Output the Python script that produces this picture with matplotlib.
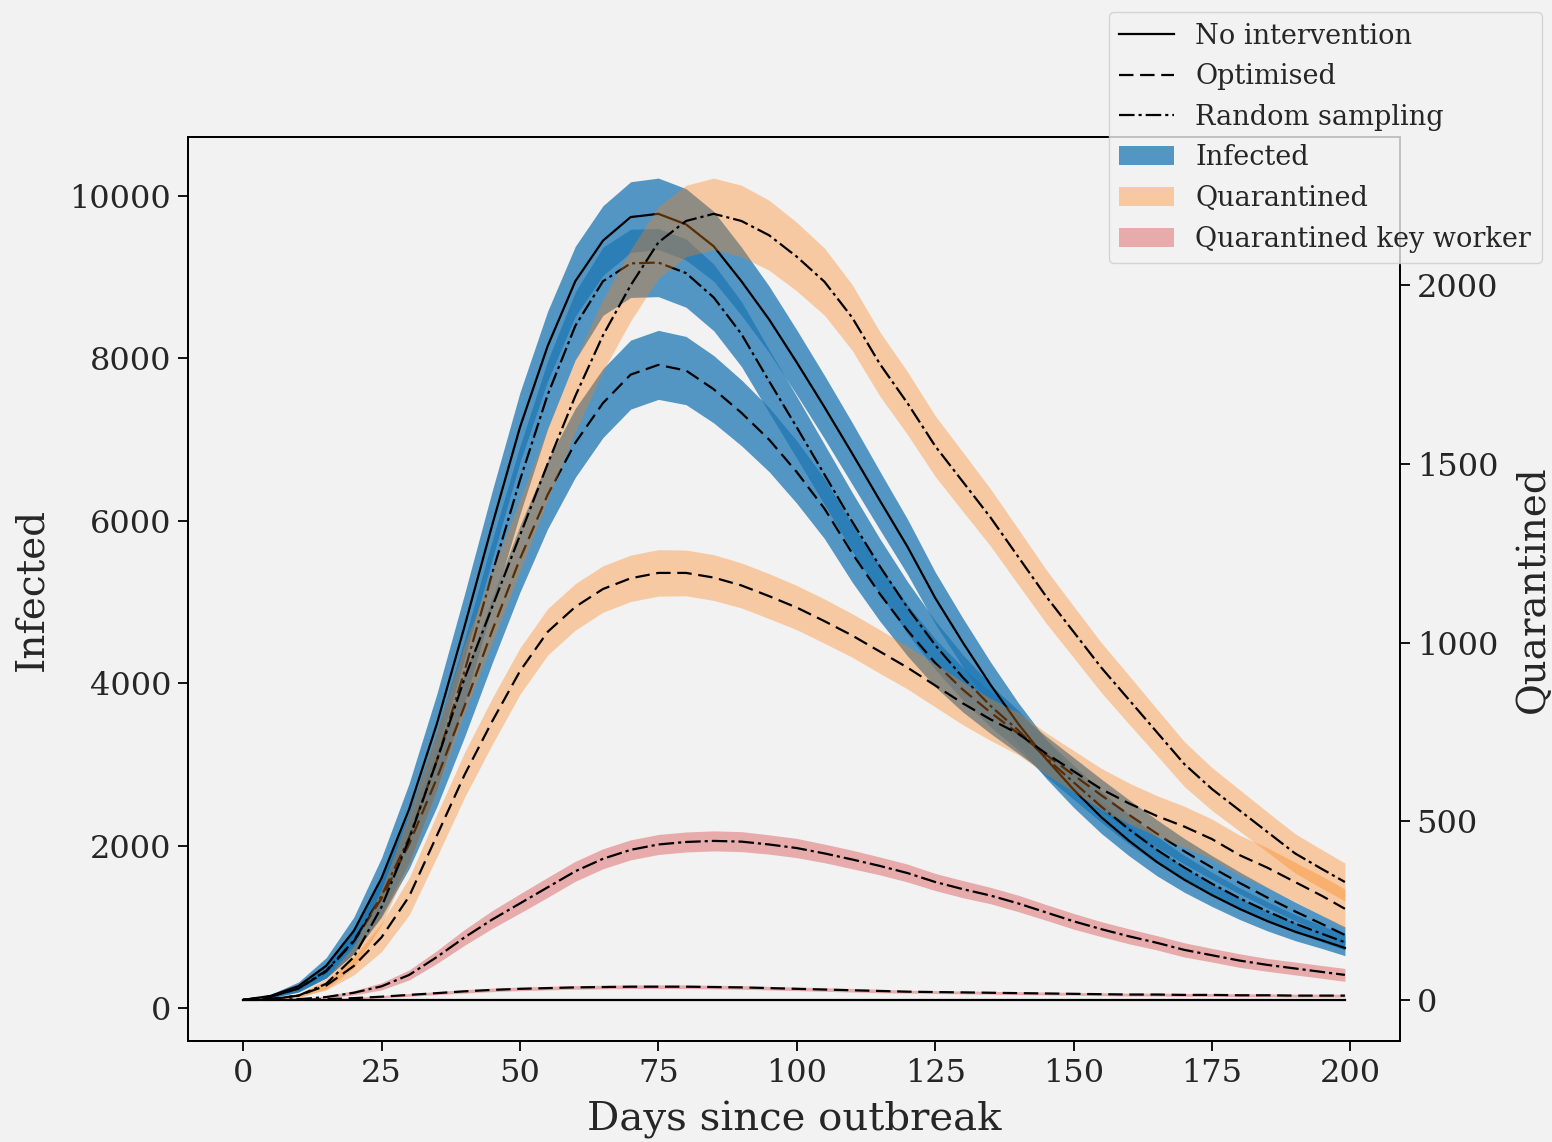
import matplotlib
matplotlib.use("Agg")
import matplotlib.pyplot as plt
from matplotlib.lines import Line2D
from matplotlib.patches import Patch
import numpy as np

plt.rcParams['font.family'] = ['DejaVu Serif']

# ---- data ----
days = [0, 5, 10, 15, 20, 25, 30, 35, 40, 45, 50, 55, 60, 65, 70, 75, 80, 85, 90, 95,
        100, 105, 110, 115, 120, 125, 130, 135, 140, 145, 150, 155, 160, 165, 170, 175,
        180, 185, 190, 195, 199]

# infected (left axis)
inf_none = [100, 150, 270, 520, 950, 1600, 2450, 3500, 4700, 5950, 7150, 8150, 8950, 9450,
            9740, 9780, 9650, 9380, 8950, 8480, 7950, 7400, 6830, 6250, 5680, 5050, 4500,
            3980, 3500, 3070, 2690, 2350, 2060, 1800, 1580, 1390, 1220, 1070, 940, 830, 740]
inf_opt = [100, 140, 240, 450, 820, 1350, 2020, 2830, 3720, 4650, 5530, 6320, 6960, 7450,
           7800, 7920, 7850, 7620, 7330, 7000, 6600, 6150, 5600, 5100, 4650, 4250, 3920,
           3640, 3380, 3120, 2870, 2620, 2380, 2150, 1930, 1730, 1540, 1360, 1190, 1030, 900]
inf_rand = [100, 140, 240, 460, 830, 1380, 2100, 3050, 4150, 5350, 6500, 7550, 8400, 8950,
            9170, 9180, 9050, 8750, 8300, 7720, 7150, 6570, 5990, 5440, 4930, 4470, 4070,
            3720, 3420, 3080, 2780, 2480, 2200, 1950, 1730, 1530, 1350, 1190, 1040, 910, 810]
sd_none = [0, 20, 50, 100, 170, 250, 320, 370, 400, 420, 430, 430, 430, 430, 435, 440, 440,
           430, 420, 410, 400, 390, 380, 360, 340, 320, 300, 280, 260, 240, 220, 200, 185,
           170, 155, 140, 130, 120, 110, 100, 95]
sd_opt = [0, 15, 40, 80, 150, 230, 300, 350, 380, 400, 410, 420, 425, 425, 425, 425, 420,
          415, 405, 395, 385, 370, 355, 335, 315, 295, 275, 260, 245, 230, 215, 200, 185,
          170, 158, 146, 135, 125, 115, 105, 100]
sd_rand = [0, 15, 45, 90, 160, 240, 310, 360, 390, 410, 420, 420, 420, 420, 420, 420, 420,
           410, 400, 390, 380, 370, 360, 340, 320, 300, 280, 260, 245, 230, 210, 195, 180,
           165, 150, 140, 130, 120, 110, 100, 95]

# quarantined (right axis)
q_none = [0] * len(days)
q_opt = [0, 3, 12, 40, 95, 175, 290, 460, 630, 780, 920, 1030, 1100, 1150, 1180, 1195, 1195,
         1182, 1160, 1130, 1098, 1060, 1020, 975, 930, 880, 830, 785, 745, 690, 640, 590,
         550, 515, 485, 450, 405, 370, 330, 290, 255]
q_rand = [0, 2, 12, 45, 120, 260, 450, 670, 900, 1100, 1300, 1500, 1690, 1860, 2000, 2120,
          2180, 2200, 2180, 2140, 2080, 2010, 1910, 1780, 1670, 1550, 1450, 1350, 1240, 1130,
          1030, 930, 840, 750, 660, 590, 530, 470, 410, 365, 330]
sdq_opt = [0, 1, 4, 12, 25, 40, 52, 60, 63, 65, 65, 65, 65, 65, 65, 65, 64, 64, 63, 63, 62,
           62, 61, 61, 60, 60, 60, 59, 59, 58, 58, 58, 57, 57, 57, 56, 56, 56, 55, 55, 55]
sdq_rand = [0, 1, 5, 15, 30, 50, 70, 85, 95, 100, 100, 100, 100, 100, 100, 100, 100, 100, 100,
            98, 96, 94, 92, 90, 88, 85, 83, 80, 78, 75, 72, 70, 68, 65, 63, 60, 58, 56, 55,
            54, 53]

# quarantined key workers (right axis)
k_opt = [0, 0, 0, 2, 5, 9, 14, 19, 24, 28, 31, 33, 35, 36, 37, 37, 37, 36, 35, 33, 31, 29,
         27, 25, 23, 22, 21, 20, 19, 18, 17, 16, 15, 15, 14, 14, 13, 13, 12, 12, 12]
k_rand = [0, 0, 2, 8, 20, 38, 70, 120, 175, 225, 270, 315, 360, 395, 420, 435, 442, 445, 443,
          435, 425, 410, 393, 375, 355, 330, 310, 292, 270, 245, 220, 198, 178, 160, 140,
          125, 110, 98, 88, 78, 70]
sdk_opt = [0, 0, 0, 1, 2, 3, 4, 4, 5, 5, 5, 5, 5, 5, 5, 5, 5, 5, 5, 5, 5, 5, 5, 5, 4, 4, 4,
           4, 4, 4, 4, 4, 4, 4, 4, 4, 4, 4, 4, 4, 4]
sdk_rand = [0, 0, 1, 3, 6, 10, 14, 18, 22, 25, 27, 28, 28, 28, 28, 28, 28, 28, 28, 27, 27,
            26, 26, 25, 25, 24, 24, 23, 23, 22, 22, 21, 21, 20, 20, 19, 19, 18, 18, 18, 18]

BG = '#f2f2f2'
INF_C, INF_A = 'tab:blue', 0.75
Q_C, Q_A = 'tab:orange', 0.35
K_C, K_A = 'tab:red', 0.35
LW = 1.6
DASHED = (6.5, 3)
DASHDOT = (7, 1.8, 1.4, 1.8)
styles = {'none': dict(linestyle='-'),
          'opt': dict(dashes=DASHED),
          'rand': dict(dashes=DASHDOT)}


def band(ax, y, sd, color, alpha):
    y = np.array(y, dtype=float)
    sd = np.array(sd, dtype=float)
    ax.fill_between(days, y - sd, y + sd, color=color, alpha=alpha, linewidth=0)


fig = plt.figure(figsize=(15.52, 11.42), dpi=100, facecolor=BG)
ax = fig.add_axes([188 / 1552, 1 - 1041 / 1142, (1400 - 188) / 1552, (1041 - 137) / 1142])
ax.set_facecolor(BG)
ax2 = ax.twinx()

# infected on the left axis
for y, sd in [(inf_none, sd_none), (inf_opt, sd_opt), (inf_rand, sd_rand)]:
    band(ax, y, sd, INF_C, INF_A)
ax.plot(days, inf_none, color='k', lw=LW, **styles['none'])
ax.plot(days, inf_opt, color='k', lw=LW, **styles['opt'])
ax.plot(days, inf_rand, color='k', lw=LW, **styles['rand'])

# quarantined on the right axis
band(ax2, q_opt, sdq_opt, Q_C, Q_A)
band(ax2, q_rand, sdq_rand, Q_C, Q_A)
band(ax2, k_opt, sdk_opt, K_C, K_A)
band(ax2, k_rand, sdk_rand, K_C, K_A)
ax2.plot(days, q_none, color='k', lw=LW, **styles['none'])
ax2.plot(days, q_opt, color='k', lw=LW, **styles['opt'])
ax2.plot(days, q_rand, color='k', lw=LW, **styles['rand'])
ax2.plot(days, k_opt, color='k', lw=LW, **styles['opt'])
ax2.plot(days, k_rand, color='k', lw=LW, **styles['rand'])

ax.set_xticks([0, 25, 50, 75, 100, 125, 150, 175, 200])
ax.set_yticks([0, 2000, 4000, 6000, 8000, 10000])
ax2.set_yticks([0, 500, 1000, 1500, 2000])

TXT = '#262626'
for a in (ax, ax2):
    a.tick_params(labelsize=23, length=7, width=1.3, colors='k', labelcolor=TXT, pad=5)
    for s in a.spines.values():
        s.set_linewidth(1.3)

ax.set_xlabel('Days since outbreak', fontsize=29, color=TXT, labelpad=9)
ax.set_ylabel('Infected', fontsize=28, color=TXT, labelpad=14)
ax2.set_ylabel('Quarantined', fontsize=28, color=TXT, labelpad=12)

handles = [Line2D([], [], color='k', lw=LW, **styles['none']),
           Line2D([], [], color='k', lw=LW, **styles['opt']),
           Line2D([], [], color='k', lw=LW, **styles['rand']),
           Patch(facecolor=INF_C, alpha=INF_A, linewidth=0),
           Patch(facecolor=Q_C, alpha=Q_A, linewidth=0),
           Patch(facecolor=K_C, alpha=K_A, linewidth=0)]
labels = ['No intervention', 'Optimised', 'Random sampling',
          'Infected', 'Quarantined', 'Quarantined key worker']
leg = ax2.legend(handles, labels, loc='upper right', fontsize=19.5,
                 bbox_to_anchor=(1542 / 1552, 1 - 12 / 1142),
                 bbox_transform=fig.transFigure, borderaxespad=0,
                 facecolor=BG, edgecolor='0.8')
for t in leg.get_texts():
    t.set_color(TXT)

fig.savefig('out.png', dpi=100, facecolor=BG)
